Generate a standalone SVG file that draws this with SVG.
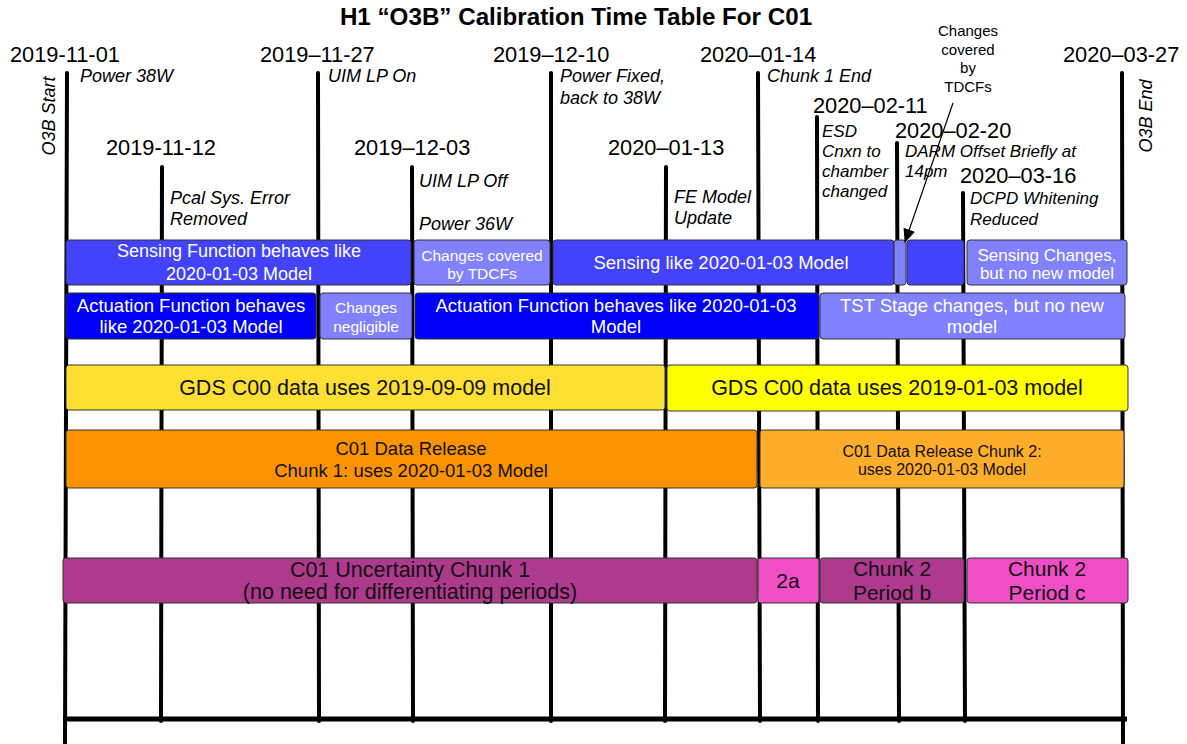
<svg xmlns="http://www.w3.org/2000/svg" width="1187" height="744" viewBox="0 0 1187 744">
<defs>
<style>
text{font-family:"Liberation Sans",Arial,Helvetica,sans-serif;}
.title{font-size:24.2px;font-weight:bold;fill:#000;}
.date{font-size:21.8px;fill:#000;}
.note{font-size:18px;font-style:italic;fill:#000;}
.note17{font-size:17px;font-style:italic;fill:#000;}
.small{font-size:15px;fill:#000;text-anchor:middle;}
.tl{stroke:#000;stroke-width:4;stroke-linecap:round;fill:none;}
.bar{stroke:#333;stroke-width:1;}
.wt{fill:#fff;text-anchor:middle;}
.bt{fill:#111;text-anchor:middle;}
.s1{fill:#4343FD;}
.s2{fill:#8181FD;}
.a1{fill:#0000FA;}
.y1{fill:#FDE033;}
.y2{fill:#FFFF00;}
.o1{fill:#FB9300;}
.o2{fill:#FDAD2A;}
.p1{fill:#AE3A8D;}
.p2{fill:#EF4EC5;}
</style>
<marker id="ah" markerUnits="userSpaceOnUse" markerWidth="14" markerHeight="12" refX="13" refY="6" orient="auto">
<path d="M0,0 L14,6 L0,12 Z" fill="#000"/>
</marker>
</defs>
<rect width="1187" height="744" fill="#fff"/>

<g id="timeline">
<line class="tl" x1="67" y1="73" x2="65" y2="744"/>
<line class="tl" x1="162" y1="167" x2="161" y2="721"/>
<line class="tl" x1="318" y1="73" x2="319" y2="721"/>
<line class="tl" x1="412" y1="167" x2="413" y2="721"/>
<line class="tl" x1="551" y1="73" x2="551" y2="721"/>
<line class="tl" x1="666" y1="167" x2="665" y2="721"/>
<line class="tl" x1="758" y1="73" x2="760" y2="721"/>
<line class="tl" x1="817" y1="117" x2="818" y2="721"/>
<line class="tl" x1="897" y1="143" x2="899" y2="721"/>
<line class="tl" x1="963" y1="193" x2="965" y2="721"/>
<line class="tl" x1="1122" y1="73" x2="1123" y2="744"/>
<line x1="63" y1="719" x2="1127" y2="719" stroke="#000" stroke-width="5"/>
</g>

<g id="title"><text class="title" x="576" y="25" text-anchor="middle">H1 “O3B” Calibration Time Table For C01</text></g>

<g id="d-2019-11-01"><text class="date" x="10" y="62">2019-11-01</text><text class="note" x="80" y="82">Power 38W</text></g>
<g id="o3b-start"><text class="note" transform="translate(55,116) rotate(-90)" text-anchor="middle">O3B Start</text></g>
<g id="d-2019-11-12"><text class="date" x="106" y="155">2019-11-12</text><text class="note" x="170" y="204">Pcal Sys. Error</text><text class="note" x="170" y="225">Removed</text></g>
<g id="d-2019-11-27"><text class="date" x="260" y="62">2019–11-27</text><text class="note" x="328" y="82">UIM LP On</text></g>
<g id="d-2019-12-03"><text class="date" x="354" y="155">2019–12-03</text><text class="note" x="419" y="187">UIM LP Off</text><text class="note" x="419" y="230">Power 36W</text></g>
<g id="d-2019-12-10"><text class="date" x="493" y="62">2019–12-10</text><text class="note" x="560" y="82">Power Fixed,</text><text class="note" x="560" y="104">back to 38W</text></g>
<g id="d-2020-01-13"><text class="date" x="608" y="155">2020–01-13</text><text class="note" x="674" y="203">FE Model</text><text class="note" x="674" y="224">Update</text></g>
<g id="d-2020-01-14"><text class="date" x="700" y="62">2020–01-14</text><text class="note" x="767" y="82">Chunk 1 End</text></g>
<g id="d-2020-02-11"><text class="date" x="813" y="113">2020–02-11</text><text class="note17" x="822" y="137">ESD</text><text class="note17" x="822" y="157">Cnxn to</text><text class="note17" x="822" y="177">chamber</text><text class="note17" x="822" y="197">changed</text></g>
<g id="d-2020-02-20"><text class="date" x="895" y="138">2020–02-20</text><text class="note17" x="905" y="157">DARM Offset Briefly at</text><text class="note17" x="905" y="177">14pm</text></g>
<g id="d-2020-03-16"><text class="date" x="960" y="183">2020–03-16</text><text class="note17" x="970" y="204">DCPD Whitening</text><text class="note17" x="970" y="225">Reduced</text></g>
<g id="d-2020-03-27"><text class="date" x="1063" y="62">2020–03-27</text></g>
<g id="o3b-end"><text class="note" transform="translate(1152,116) rotate(-90)" text-anchor="middle">O3B End</text></g>
<g id="tdcf-note"><text class="small" x="968" y="36">Changes</text><text class="small" x="968" y="54.5">covered</text><text class="small" x="968" y="73">by</text><text class="small" x="968" y="91.5">TDCFs</text></g>

<g id="sensing-1"><rect class="bar s1" x="66" y="240" width="345" height="45" rx="3"/><text class="wt" x="239" y="257" font-size="18">Sensing Function behaves like</text><text class="wt" x="239" y="280" font-size="18">2020-01-03 Model</text></g>
<g id="sensing-tdcf"><rect class="bar s2" x="414" y="240" width="136" height="45" rx="3"/><text class="wt" x="482" y="261" font-size="15.5">Changes covered</text><text class="wt" x="482" y="279" font-size="15.5">by TDCFs</text></g>
<g id="sensing-2"><rect class="bar s1" x="553" y="240" width="341" height="45" rx="3"/><text class="wt" x="721" y="269" font-size="18.5">Sensing like 2020-01-03 Model</text></g>
<g id="sensing-brief"><rect class="bar s2" x="894" y="240" width="12" height="45" rx="3"/></g>
<g id="sensing-3"><rect class="bar s1" x="907" y="240" width="57" height="45" rx="3"/></g>
<g id="sensing-changes"><rect class="bar s2" x="967" y="240" width="160" height="45" rx="3"/><text class="wt" x="1047" y="261" font-size="17">Sensing Changes,</text><text class="wt" x="1047" y="279" font-size="17">but no new model</text></g>

<g id="actuation-1"><rect class="bar a1" x="66" y="293" width="250" height="46" rx="3"/><text class="wt" x="191" y="312" font-size="18.5">Actuation Function behaves</text><text class="wt" x="191" y="333" font-size="18.5">like 2020-01-03 Model</text></g>
<g id="actuation-negligible"><rect class="bar s2" x="320" y="293" width="92" height="46" rx="3"/><text class="wt" x="366" y="313" font-size="15.5">Changes</text><text class="wt" x="366" y="332" font-size="15.5">negligible</text></g>
<g id="actuation-2"><rect class="bar a1" x="415" y="293" width="404" height="46" rx="3"/><text class="wt" x="616" y="312" font-size="18.5">Actuation Function behaves like 2020-01-03</text><text class="wt" x="616" y="333" font-size="18.5">Model</text></g>
<g id="actuation-tst"><rect class="bar s2" x="820" y="293" width="305" height="46" rx="3"/><text class="wt" x="972" y="312" font-size="18.5">TST Stage changes, but no new</text><text class="wt" x="972" y="333" font-size="18.5">model</text></g>

<g id="gds-1"><rect class="bar y1" x="66" y="365" width="599" height="45" rx="3"/><text class="bt" x="365" y="395" font-size="21.5">GDS C00 data uses 2019-09-09 model</text></g>
<g id="gds-2"><rect class="bar y2" x="667" y="365" width="461" height="46" rx="3"/><text class="bt" x="897" y="395" font-size="21.5">GDS C00 data uses 2019-01-03 model</text></g>

<g id="c01-chunk1"><rect class="bar o1" x="66" y="430" width="691" height="58" rx="3"/><text class="bt" x="411" y="455" font-size="18.5">C01 Data Release</text><text class="bt" x="411" y="477" font-size="18.5">Chunk 1: uses 2020-01-03 Model</text></g>
<g id="c01-chunk2"><rect class="bar o2" x="760" y="430" width="364" height="58" rx="3"/><text class="bt" x="942" y="457" font-size="16">C01 Data Release Chunk 2:</text><text class="bt" x="942" y="475" font-size="16">uses 2020-01-03 Model</text></g>

<g id="unc-chunk1"><rect class="bar p1" x="63" y="558" width="694" height="45" rx="3"/><text class="bt" x="410" y="577" font-size="21.5">C01 Uncertainty Chunk 1</text><text class="bt" x="410" y="599" font-size="21.5">(no need for differentiating periods)</text></g>
<g id="unc-2a"><rect class="bar p2" x="758" y="558" width="61" height="45" rx="3"/><text class="bt" x="788" y="588" font-size="21">2a</text></g>
<g id="unc-2b"><rect class="bar p1" x="820" y="558" width="144" height="45" rx="3"/><text class="bt" x="892" y="576" font-size="21">Chunk 2</text><text class="bt" x="892" y="600" font-size="21">Period b</text></g>
<g id="unc-2c"><rect class="bar p2" x="967" y="558" width="161" height="45" rx="3"/><text class="bt" x="1047" y="576" font-size="21">Chunk 2</text><text class="bt" x="1047" y="600" font-size="21">Period c</text></g>

<g id="connectors">
<line x1="953" y1="103" x2="905" y2="242" stroke="#000" stroke-width="1.2" marker-end="url(#ah)"/>
</g>
</svg>
